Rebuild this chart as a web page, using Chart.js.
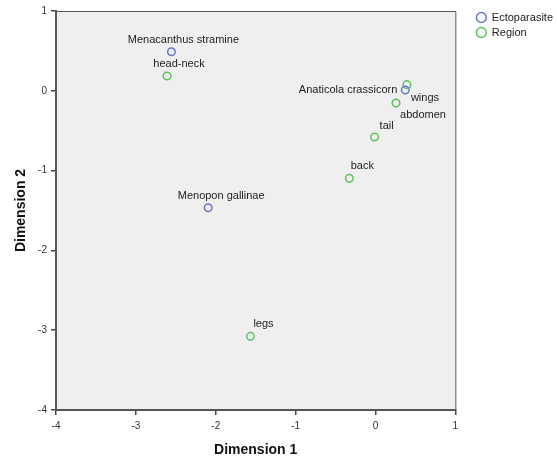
<!DOCTYPE html>
<html>
<head>
<meta charset="utf-8">
<script src="https://cdn.jsdelivr.net/npm/chart.js@4/dist/chart.umd.min.js"></script>
<style>
html,body{margin:0;padding:0;background:#fff;}
#wrap{width:557px;height:459px;position:relative;}
</style>
</head>
<body>
<div id="wrap"><canvas id="c" width="557" height="459"></canvas></div>
<script>
// Data
const ectoNames = ["Menacanthus stramine", "Menopon gallinae", "Anaticola crassicorn"];
const ectoDim1 = [-2.555, -2.095, 0.373];
const ectoDim2 = [0.49, -1.465, 0.01];

const regionNames = ["head-neck", "wings", "abdomen", "tail", "back", "legs"];
const regionDim1 = [-2.61, 0.394, 0.257, -0.011, -0.328, -1.565];
const regionDim2 = [0.185, 0.077, -0.153, -0.579, -1.097, -3.077];

const xTicks = [-4, -3, -2, -1, 0, 1];
const yTicks = [1, 0, -1, -2, -3, -4];

// Label placement (style only): [dx, dy, align]
const ectoLabelPos = [[12, -12, 'center'], [13, -12, 'center'], [-8, 0, 'right']];
const regionLabelPos = [[12, -12, 'center'], [18, 13, 'center'], [27, 12, 'center'], [12, -11, 'center'], [13, -12, 'center'], [13, -12, 'center']];

const FONT = "'Liberation Sans', Arial, sans-serif";

const bgPlugin = {
  id: 'bg',
  afterLayout(chart) {
    const lg = chart.legend;
    if (lg) {
      const dx = 17, dy = -3;
      lg.left += dx; lg.right += dx; lg.top += dy; lg.bottom += dy;
    }
  },
  beforeDraw(chart) {
    const {ctx, chartArea: a} = chart;
    ctx.save();
    ctx.fillStyle = '#efefef';
    ctx.fillRect(a.left, a.top, a.right - a.left, a.bottom - a.top);
    ctx.restore();
  },
  afterDatasetsDraw(chart) {
    const {ctx, chartArea: a} = chart;
    ctx.save();
    ctx.strokeStyle = '#555';
    ctx.lineWidth = 1;
    ctx.beginPath();
    ctx.moveTo(a.left, a.top + 0.5);
    ctx.lineTo(a.right + 0.5, a.top + 0.5);
    ctx.lineTo(a.right + 0.5, a.bottom);
    ctx.stroke();
    // point labels
    ctx.font = '11px ' + FONT;
    ctx.fillStyle = '#222';
    ctx.textBaseline = 'middle';
    const sets = [[ectoNames, ectoLabelPos], [regionNames, regionLabelPos]];
    chart.data.datasets.forEach((ds, di) => {
      const meta = chart.getDatasetMeta(di);
      const [names, pos] = sets[di];
      meta.data.forEach((pt, i) => {
        const [dx, dy, al] = pos[i];
        ctx.textAlign = al;
        ctx.fillText(names[i], pt.x + dx, pt.y + dy);
      });
    });
    ctx.restore();
  }
};

new Chart(document.getElementById('c'), {
  type: 'scatter',
  data: {
    datasets: [
      {
        label: 'Ectoparasite',
        data: ectoDim1.map((x, i) => ({x, y: ectoDim2[i]})),
        borderColor: '#6a78c8',
        backgroundColor: 'rgba(0,0,0,0)',
        pointRadius: 3.8,
        pointBorderWidth: 1.5,
        pointStyle: 'circle'
      },
      {
        label: 'Region',
        data: regionDim1.map((x, i) => ({x, y: regionDim2[i]})),
        borderColor: '#5cc25c',
        backgroundColor: 'rgba(0,0,0,0)',
        pointRadius: 3.8,
        pointBorderWidth: 1.5,
        pointStyle: 'circle'
      }
    ]
  },
  options: {
    responsive: false,
    animation: false,
    layout: {padding: {left: 13, right: 11, top: 11, bottom: 0}},
    plugins: {
      tooltip: {enabled: false},
      legend: {
        position: 'right',
        align: 'start',
        labels: {
          usePointStyle: true,
          pointStyle: 'circle',
          boxWidth: 10,
          boxHeight: 7,
          padding: 4,
          color: '#222',
          font: {family: FONT, size: 11},
          generateLabels(chart) {
            return chart.data.datasets.map((ds, i) => ({
              text: ds.label,
              strokeStyle: ds.borderColor,
              fillStyle: 'rgba(0,0,0,0)',
              lineWidth: 1.5,
              pointStyle: 'circle',
              datasetIndex: i,
              fontColor: '#222'
            }));
          }
        }
      }
    },
    scales: {
      x: {
        type: 'linear',
        min: -4, max: 1,
        afterBuildTicks(scale) { scale.ticks = xTicks.map(v => ({value: v})); },
        afterFit(scale) { scale.height = 49; },
        grid: {display: true, drawOnChartArea: false, drawTicks: true, tickLength: 5, color: '#444', lineWidth: 1.5},
        border: {display: true, color: '#555', width: 2},
        ticks: {color: '#333', font: {family: FONT, size: 10}, padding: 5, maxRotation: 0},
        title: {display: true, text: 'Dimension 1', color: '#111', font: {family: FONT, size: 14, weight: 'bold'}, padding: {top: 8, bottom: 0}}
      },
      y: {
        type: 'linear',
        min: -4, max: 1,
        afterBuildTicks(scale) { scale.ticks = yTicks.map(v => ({value: v})); },
        afterFit(scale) { scale.width = 43; },
        grid: {display: true, drawOnChartArea: false, drawTicks: true, tickLength: 5, color: '#444', lineWidth: 1.5},
        border: {display: true, color: '#555', width: 2},
        ticks: {color: '#333', font: {family: FONT, size: 10}, padding: 4},
        title: {display: true, text: 'Dimension 2', color: '#111', font: {family: FONT, size: 14, weight: 'bold'}, padding: {top: 0, bottom: 6}}
      }
    }
  },
  plugins: [bgPlugin]
});
</script>
</body>
</html>
